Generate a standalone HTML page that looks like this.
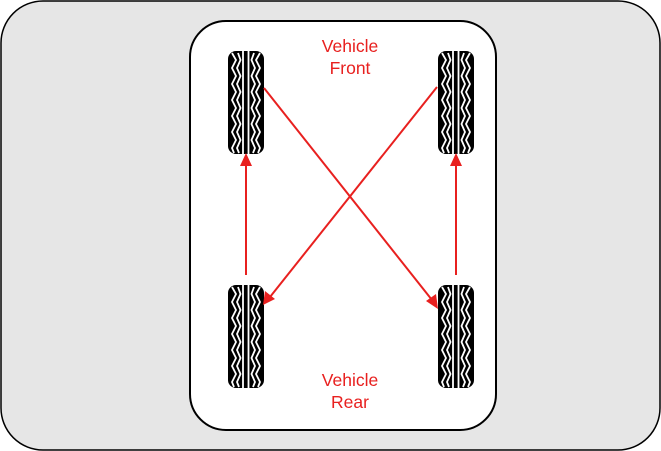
<!DOCTYPE html>
<html><head><style>html,body{margin:0;padding:0;background:#fff}svg{display:block}</style></head>
<body>
<svg width="661" height="451" viewBox="0 0 661 451" xmlns="http://www.w3.org/2000/svg">
<defs>
<g id="tire">
<rect x="0" y="0" width="36" height="103" rx="8" fill="#000"/>
<g stroke="#fff" stroke-width="1.8" fill="none">
<line x1="15" y1="0" x2="15" y2="103"/>
<line x1="20.5" y1="0" x2="20.5" y2="103"/>
<polyline points="4,2 8,9 4,17 8,25 4,33 8,41 4,49 8,57 4,65 8,73 4,81 8,89 4,97 6,102"/>
<polyline points="10,2 12.5,9 9,17 12.5,25 9,33 12.5,41 9,49 12.5,57 9,65 12.5,73 9,81 12.5,89 9,97 11,102"/>
<polyline points="26,2 23.5,9 27,17 23.5,25 27,33 23.5,41 27,49 23.5,57 27,65 23.5,73 27,81 23.5,89 27,97 25,102"/>
<polyline points="32,2 28,9 32,17 28,25 32,33 28,41 32,49 28,57 32,65 28,73 32,81 28,89 32,97 30,102"/>
</g>
</g>
</defs>
<rect x="1" y="1" width="659" height="449" rx="42" fill="#e6e6e6" stroke="#000" stroke-width="1.5"/>
<rect x="190" y="21" width="306" height="409" rx="36" fill="#fff" stroke="#000" stroke-width="2"/>
<use href="#tire" x="228" y="51"/>
<use href="#tire" x="438" y="51"/>
<use href="#tire" x="228" y="285"/>
<use href="#tire" x="438" y="285"/>
<g stroke="#e8201f" stroke-width="2" fill="none">
<line x1="246" y1="275" x2="246" y2="163"/>
<line x1="456" y1="275" x2="456" y2="163"/>
<line x1="264" y1="88" x2="432" y2="300"/>
<line x1="437" y1="87" x2="270" y2="297"/>
</g>
<g fill="#e8201f">
<polygon points="246,153 240,166 252,166"/>
<polygon points="456,153 450,166 462,166"/>
<polygon points="438,309 426,301 436,294"/>
<polygon points="263,305 265,291 275,299"/>
</g>
<g font-family="Liberation Sans, sans-serif" font-size="17.5" fill="#e8201f" text-anchor="middle">
<text x="350" y="52">Vehicle</text>
<text x="350" y="74">Front</text>
<text x="350" y="386">Vehicle</text>
<text x="350" y="408">Rear</text>
</g>
</svg>
</body></html>
